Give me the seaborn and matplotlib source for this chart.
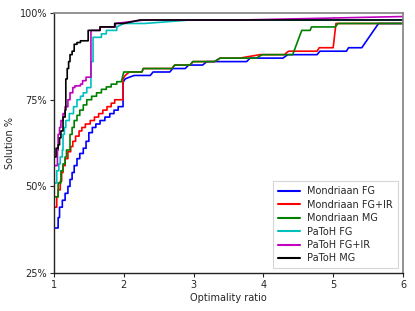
"""
Performance profile of partitioners: fraction of instances solved
within a given optimality ratio.
"""

import matplotlib

matplotlib.use("Agg")
import matplotlib.pyplot as plt
import pandas as pd
import seaborn as sns
from matplotlib.ticker import FuncFormatter

# --- data (optimality ratio, solution %) ---
mondriaan_fg_x = [1.00, 1.05, 1.06, 1.08, 1.12, 1.16, 1.20, 1.23, 1.26, 1.29, 1.33, 1.37,
                  1.42, 1.46, 1.50, 1.55, 1.60, 1.66, 1.73, 1.80, 1.86, 1.92, 1.97, 1.99,
                  2.02, 2.08, 2.15, 2.38, 2.42, 2.66, 2.70, 2.88, 2.93, 3.13, 3.19, 3.76,
                  3.81, 4.28, 4.35, 4.77, 4.81, 5.19, 5.22, 5.41, 5.65, 6.00]
mondriaan_fg_y = [38, 38, 41, 44, 46, 48, 50, 52, 54, 56, 58, 59.5,
                  61, 63, 65.5, 67, 68, 69, 70, 71, 72, 73, 73, 80,
                  81, 81.5, 82, 82, 83, 83, 84, 84, 85, 85, 86, 86,
                  87, 87, 88, 88, 89, 89, 90, 90, 97, 97]

mondriaan_fgir_x = [1.00, 1.02, 1.04, 1.06, 1.09, 1.11, 1.13, 1.16, 1.20, 1.24, 1.27, 1.31,
                    1.36, 1.40, 1.45, 1.52, 1.58, 1.64, 1.70, 1.76, 1.82, 1.87, 1.96, 1.99,
                    2.02, 2.08, 2.26, 2.28, 2.69, 2.73, 2.95, 2.99, 3.30, 3.38, 3.66, 3.95,
                    4.30, 4.36, 4.77, 4.80, 5.00, 5.04, 6.00]
mondriaan_fgir_y = [44, 44, 47, 49, 51.5, 54, 56, 58, 60, 61.5, 63, 64.5,
                    66, 67, 68, 69, 70, 71, 72, 73, 74, 75, 75, 81,
                    82, 83, 83, 84, 84, 85, 85, 86, 86, 87, 87, 88,
                    88, 89, 89, 90, 90, 97, 97]

mondriaan_mg_x = [1.00, 1.03, 1.06, 1.10, 1.13, 1.16, 1.18, 1.23, 1.26, 1.29, 1.33, 1.37,
                  1.42, 1.47, 1.54, 1.61, 1.68, 1.75, 1.82, 1.90, 1.97, 2.00, 2.26, 2.28,
                  2.69, 2.73, 2.95, 2.99, 3.30, 3.38, 3.90, 3.98, 4.42, 4.55, 4.67, 4.69,
                  5.03, 5.07, 6.00]
mondriaan_mg_y = [47, 47, 51, 54.5, 56.5, 58.5, 60.5, 65, 67, 69, 70.5, 72,
                  73.5, 75, 76, 77, 78, 78.7, 79.5, 80.2, 80.5, 83, 83, 84,
                  84, 85, 85, 86, 86, 87, 87, 88, 88, 95, 95, 96,
                  96, 97, 97]

patoh_fg_x = [1.00, 1.03, 1.04, 1.07, 1.09, 1.12, 1.13, 1.15, 1.17, 1.22, 1.28, 1.33,
              1.38, 1.42, 1.47, 1.50, 1.53, 1.56, 1.66, 1.68, 1.73, 1.75, 1.87, 1.90,
              2.00, 2.30, 2.95, 6.00]
patoh_fg_y = [51, 51, 54.5, 56.5, 58.5, 60.5, 65, 67, 69, 71, 73, 75,
              76, 77, 78.5, 78.5, 86, 93, 93, 94, 94, 95, 95, 96,
              97, 97, 98, 98]

patoh_fgir_x = [1.00, 1.04, 1.05, 1.06, 1.08, 1.10, 1.13, 1.16, 1.20, 1.23, 1.27, 1.30,
                1.38, 1.41, 1.46, 1.53, 1.64, 1.66, 1.85, 1.88, 2.30, 3.67, 6.00]
patoh_fgir_y = [56, 56, 60.5, 65, 67, 69, 71, 73, 75, 77, 78.5, 79,
                79.5, 80.5, 81.5, 95, 95, 96, 96, 97, 98, 98, 99]

patoh_mg_x = [1.00, 1.02, 1.03, 1.06, 1.08, 1.10, 1.13, 1.16, 1.17, 1.19, 1.21, 1.23,
              1.26, 1.29, 1.33, 1.38, 1.47, 1.49, 1.63, 1.66, 1.85, 1.87, 2.00, 2.23,
              6.00]
patoh_mg_y = [58.5, 58.5, 61, 62, 64, 66, 70, 72, 81, 84, 86, 88,
              89, 91, 91.5, 92, 92, 95, 95, 96, 96, 97, 97, 98,
              98]

series_names = ["Mondriaan FG", "Mondriaan FG+IR", "Mondriaan MG",
                "PaToH FG", "PaToH FG+IR", "PaToH MG"]
series_x = [mondriaan_fg_x, mondriaan_fgir_x, mondriaan_mg_x,
            patoh_fg_x, patoh_fgir_x, patoh_mg_x]
series_y = [mondriaan_fg_y, mondriaan_fgir_y, mondriaan_mg_y,
            patoh_fg_y, patoh_fgir_y, patoh_mg_y]
line_colors = ["#0000ff", "#ff0000", "#008000", "#00bfbf", "#bf00bf", "#000000"]

y_ticks = [25, 50, 75, 100]
x_ticks = [1, 2, 3, 4, 5, 6]


def as_stairs(xs, ys, until=1.995):
    """Insert step corners (horizontal, then vertical) in the dense low-ratio part."""
    out_x, out_y = [xs[0]], [ys[0]]
    for i in range(1, len(xs)):
        if xs[i] <= until and xs[i] != xs[i - 1] and ys[i] != ys[i - 1]:
            out_x.append(xs[i])
            out_y.append(ys[i - 1])
        out_x.append(xs[i])
        out_y.append(ys[i])
    return out_x, out_y


# Long format table for seaborn
frames = []
for name, xs, ys in zip(series_names, series_x, series_y):
    sx, sy = as_stairs(xs, ys)
    frames.append(pd.DataFrame({"ratio": sx, "solved": sy, "method": name}))
df = pd.concat(frames, ignore_index=True)

sns.set_style("ticks")
plt.rcParams["font.family"] = ["DejaVu Sans"]

fig = plt.figure(figsize=(4.15, 3.11), dpi=100)
ax = fig.add_axes([0.130, 0.122, 0.841, 0.836])

sns.lineplot(
    data=df,
    x="ratio",
    y="solved",
    hue="method",
    hue_order=series_names,
    palette=dict(zip(series_names, line_colors)),
    estimator=None,
    sort=False,
    linewidth=1.2,
    ax=ax,
)

ax.set_xlim(1, 6)
ax.set_ylim(25, 100)
ax.set_xticks(x_ticks)
ax.set_yticks(y_ticks)
ax.yaxis.set_major_formatter(FuncFormatter(lambda v, _: f"{v:.0f}%"))
ax.tick_params(labelsize=7, length=3, width=0.8, pad=2)
ax.set_xlabel("Optimality ratio", fontsize=7, labelpad=2)
ax.set_ylabel("Solution %", fontsize=7, labelpad=3)

for side in ["left", "bottom"]:
    ax.spines[side].set_color("#222222")
    ax.spines[side].set_linewidth(1.0)
for side in ["top", "right"]:
    ax.spines[side].set_visible(True)
    ax.spines[side].set_color("#808080")
    ax.spines[side].set_linewidth(1.2)

leg = ax.legend(
    loc="lower right",
    fontsize=7,
    frameon=True,
    fancybox=False,
    borderpad=0.5,
    labelspacing=0.35,
    handlelength=2.2,
)
leg.get_frame().set_edgecolor("#cccccc")
leg.get_frame().set_linewidth(0.8)
for line in leg.get_lines():
    line.set_linewidth(1.5)

plt.savefig("out.png", dpi=100)
plt.close()
